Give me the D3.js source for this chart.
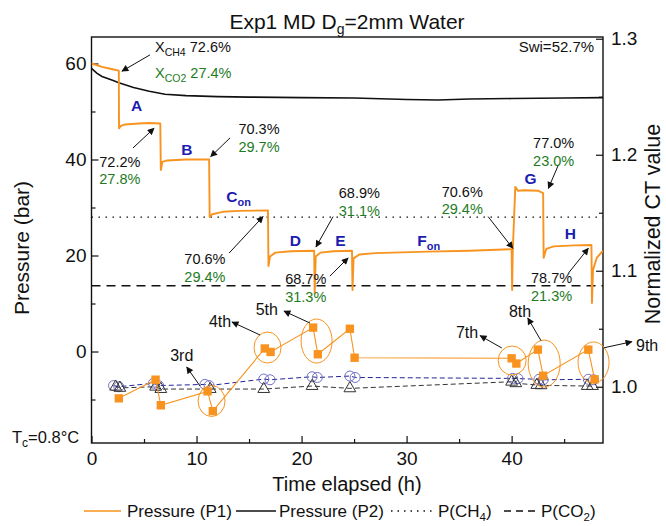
<!DOCTYPE html>
<html><head><meta charset="utf-8">
<script src="https://cdn.jsdelivr.net/npm/d3@7"></script>
<style>
body{margin:0;background:#fff}
svg{display:block}
text{font-family:"Liberation Sans",Arial,Helvetica,sans-serif}
</style>
</head><body>
<svg id="chart" width="666" height="526"></svg>
<script>
// ---- Pressure P1 (bar) vs time (h)
const p1Time = [0,1,2,2.6,2.62,2.8,3.2,4.5,5.5,6.55,6.6,6.75,7.2,9,11.2,11.25,11.5,12.5,14,16.8,16.85,17.0,17.5,19,21.2,21.25,21.35,21.8,23,24.8,24.85,24.95,25.5,27,32,36,40.0,40.05,40.1,40.35,40.6,41.2,42.5,43.0,43.05,43.3,44,46,47.6,47.65,47.75,48.1,48.7];
const p1Pressure = [60.0,59.3,58.8,58.5,46.5,47.0,47.3,47.5,47.6,47.5,37.8,39.5,39.8,40.0,40.0,28.0,28.6,29.1,29.3,29.4,17.8,19.8,20.6,20.9,21.0,12.1,19.8,20.6,20.9,21.0,12.8,19.4,20.2,20.5,20.8,21.0,21.3,12.8,20.5,34.3,33.5,33.6,33.5,33.0,19.5,21.4,21.9,22.1,22.2,10.1,17.0,19.5,21.0];
// ---- Pressure P2 (bar)
const p2Time = [0,0.5,1,2,2.6,4,5.5,7,9,12,15,20,25,30,33,36,40,45,48.7];
const p2Pressure = [59.0,58.0,57.3,56.5,56.0,55.0,54.2,53.6,53.3,53.1,53.0,52.9,52.8,52.5,52.4,52.6,52.7,52.8,52.9];
// ---- Reference pressures
const pCH4 = 28.0;
const pCO2 = 13.7;
// ---- Normalized CT values (right axis)
const ctTime = [2.6,6.1,6.6,11.05,11.55,16.5,17.05,21.1,21.55,24.6,25.05,40.0,40.45,42.5,43.0,47.3,47.9];
const ctValue = [0.990,1.006,0.984,0.996,0.979,1.033,1.030,1.051,1.028,1.050,1.025,1.0245,1.020,1.032,1.0095,1.032,1.0064];
const circTime = [2.1,2.6,5.9,6.4,10.8,11.2,16.4,17.0,21.0,21.5,24.6,25.1,40.1,40.6,42.6,43.0,47.3,47.8];
const circValue = [1.001,1.000,1.003,1.001,1.002,1.001,1.0066,1.006,1.0086,1.008,1.0092,1.008,1.0072,1.007,1.0064,1.006,1.0064,1.006];
const triTime = [2.3,2.7,6.1,6.6,11.3,16.4,21.0,24.6,40.0,40.4,42.4,42.8,47.2,47.7];
const triValue = [1.000,0.999,1.000,0.998,0.998,0.998,1.0006,0.9986,1.0043,1.003,1.0015,1.0012,1.0006,1.0006];
// ---- Axis ticks
const xTicks = [0,10,20,30,40];
const xMinor = [5,15,25,35,45];
const leftTicks = [0,20,40,60];
const leftMinor = [-10,10,30,50];
const rightTicks = [1.0,1.1,1.2,1.3];
const rightMinor = [1.05,1.15,1.25];
// ---- Stage labels
const stageName = ["A","B","C","D","E","F","G","H"];
const stageSub = ["","","on","","","on","",""];
const stageTime = [4.3,9.07,14.0,19.4,23.7,32.1,41.8,45.6];
const stagePressure = [51.3,42.0,32.2,23.2,23.2,23.2,36.1,24.6];
// ---- Gas composition labels (CH4 / CO2)
const compCH4 = ["72.2%","70.3%","70.6%","68.9%","68.7%","70.6%","77.0%","78.7%"];
const compCO2 = ["27.8%","29.7%","29.4%","31.1%","31.3%","29.4%","23.0%","21.3%"];
const compTime = [2.7,15.95,10.8,25.5,20.4,35.3,44.0,43.8];
const compPressure = [39.5,46.3,19.2,33.0,15.1,33.3,43.4,15.3];
const compArrowFrom = [[3.95,42.4],[13.19,44.5],[13.1,20.5],[23.0,28.1],[22.7,15.7],[37.76,28.1],[44.46,38.9],[45.4,16.3]];
const compArrowTo = [[5.95,46.5],[11.35,40.6],[16.33,28.1],[21.38,21.8],[24.43,19.5],[40.11,21.5],[43.5,34.0],[47.3,21.5]];
// ---- CT group annotations (ellipses around repeated scans)
const ordName = ["3rd","4th","5th","7th","8th","9th"];
const ordEllTime = [11.43,16.76,21.43,40.05,43.1,47.8];
const ordEllValue = [0.9877,1.0338,1.0394,1.0226,1.020,1.0209];
const ordEllRx = [13.5,13.5,15.5,14,16,15.5];
const ordEllRy = [15.5,15.5,22,14.5,23.5,20.5];
const ordLabelTime = [8.59,12.24,16.69,35.76,40.8,52.9];
const ordLabelValue = [1.0273,1.0569,1.067,1.0474,1.0655,1.036];
const ordArrowFrom = [[10.33,1.0006],[16.05,1.0446],[20.8,1.0549],[39.07,1.0334],[42.8,1.0397],[48.8,1.0336]];
const ordArrowTo = [[9.07,1.017],[13.38,1.0558],[18.33,1.0652],[37.0,1.044],[41.54,1.0592],[51.45,1.0388]];

const ORANGE = "#f7931e", GREEN = "#1e7b1e", BLUE = "#1c1cb0";

const svg = d3.select("#chart");
svg.append("rect").attr("width",666).attr("height",526).attr("fill","#fff");

const L = 91.5, R = 603, T = 37, B = 443;
const x = d3.scaleLinear().domain([0,48.7]).range([L,R]);
const yL = d3.scaleLinear().domain([-19.06,65.52]).range([B,T]);
const yR = d3.scaleLinear().domain([0.9515,1.3015]).range([B,T]);

const defs = svg.append("defs");
defs.append("marker").attr("id","ah").attr("viewBox","0 0 10 10")
  .attr("refX",9).attr("refY",5).attr("markerWidth",9).attr("markerHeight",7)
  .attr("markerUnits","userSpaceOnUse").attr("orient","auto")
  .append("path").attr("d","M0,0L10,5L0,10z").attr("fill","#111");
defs.append("clipPath").attr("id","plotclip").append("rect")
  .attr("x",L).attr("y",T).attr("width",R-L).attr("height",B-T);

// ---- axes
function styleAxis(g){
  g.select(".domain").remove();
  g.selectAll(".tick line").attr("stroke","#111").attr("stroke-width",1.2);
  g.selectAll("text").attr("font-size",19).attr("fill","#111")
    .style("font-family",'"Liberation Sans",Arial,sans-serif');
}
svg.append("g").attr("transform",`translate(0,${B})`)
  .call(d3.axisBottom(x).tickValues(xTicks).tickSize(-7).tickPadding(9).tickFormat(d3.format("d"))).call(styleAxis);
svg.append("g").attr("transform",`translate(0,${B})`)
  .call(d3.axisBottom(x).tickValues(xMinor).tickSize(-4).tickFormat("")).call(styleAxis);
svg.append("g").attr("transform",`translate(${L},0)`)
  .call(d3.axisLeft(yL).tickValues(leftTicks).tickSize(-7).tickPadding(5).tickFormat(d3.format("d"))).call(styleAxis);
svg.append("g").attr("transform",`translate(${L},0)`)
  .call(d3.axisLeft(yL).tickValues(leftMinor).tickSize(-4).tickFormat("")).call(styleAxis);
svg.append("g").attr("transform",`translate(${R},0)`)
  .call(d3.axisRight(yR).tickValues(rightTicks).tickSize(-7).tickPadding(8).tickFormat(d3.format(".1f"))).call(styleAxis);
svg.append("g").attr("transform",`translate(${R},0)`)
  .call(d3.axisRight(yR).tickValues(rightMinor).tickSize(-4).tickFormat("")).call(styleAxis);

svg.append("rect").attr("x",L).attr("y",T).attr("width",R-L).attr("height",B-T)
  .attr("fill","none").attr("stroke","#111").attr("stroke-width",1.4);

const plot = svg.append("g").attr("clip-path","url(#plotclip)");

// reference pressure lines
plot.append("line").attr("x1",L).attr("x2",R).attr("y1",yL(pCH4)).attr("y2",yL(pCH4))
  .attr("stroke","#111").attr("stroke-width",1.3).attr("stroke-dasharray","1.5,5.5");
plot.append("line").attr("x1",L).attr("x2",R).attr("y1",yL(pCO2)).attr("y2",yL(pCO2))
  .attr("stroke","#111").attr("stroke-width",1.3).attr("stroke-dasharray","9,6");

// pressure curves
const lineL = d3.line().x(d=>x(d[0])).y(d=>yL(d[1]));
plot.append("path").datum(d3.zip(p2Time,p2Pressure)).attr("d",lineL)
  .attr("fill","none").attr("stroke","#111").attr("stroke-width",1.6);
plot.append("path").datum(d3.zip(p1Time,p1Pressure)).attr("d",lineL)
  .attr("fill","none").attr("stroke",ORANGE).attr("stroke-width",1.9).attr("stroke-linejoin","round");

// CT series
const lineR = d3.line().x(d=>x(d[0])).y(d=>yR(d[1]));
const circ = d3.zip(circTime,circValue), tri = d3.zip(triTime,triValue), ct = d3.zip(ctTime,ctValue);
plot.append("path").datum(tri).attr("d",lineR).attr("fill","none")
  .attr("stroke","#333").attr("stroke-width",1).attr("stroke-dasharray","5,3");
plot.append("path").datum(circ).attr("d",lineR).attr("fill","none")
  .attr("stroke","#24249a").attr("stroke-width",1).attr("stroke-dasharray","5,3");
plot.selectAll(".circ").data(circ).join("circle").attr("class","circ")
  .attr("cx",d=>x(d[0])).attr("cy",d=>yR(d[1])).attr("r",5)
  .attr("fill","none").attr("stroke","#7070c8").attr("stroke-width",1);
plot.selectAll(".tri").data(tri).join("path").attr("class","tri")
  .attr("transform",d=>`translate(${x(d[0])},${yR(d[1])})`)
  .attr("d",d3.symbol(d3.symbolTriangle,60)).attr("fill","none").attr("stroke","#333").attr("stroke-width",1);
plot.append("path").datum(ct).attr("d",lineR).attr("fill","none")
  .attr("stroke",ORANGE).attr("stroke-width",1.1);
plot.selectAll(".sq").data(ct).join("path").attr("class","sq")
  .attr("transform",d=>`translate(${x(d[0])},${yR(d[1])})`)
  .attr("d",d3.symbol(d3.symbolSquare,70)).attr("fill",ORANGE);

// ellipses around scan groups
svg.selectAll(".ell").data(d3.range(ordName.length)).join("ellipse").attr("class","ell")
  .attr("cx",i=>x(ordEllTime[i])).attr("cy",i=>yR(ordEllValue[i]))
  .attr("rx",i=>ordEllRx[i]).attr("ry",i=>ordEllRy[i])
  .attr("fill","none").attr("stroke",ORANGE).attr("stroke-width",1);

// ordinal labels + arrows
ordName.forEach((n,i)=>{
  svg.append("line").attr("x1",x(ordArrowFrom[i][0])).attr("y1",yR(ordArrowFrom[i][1]))
    .attr("x2",x(ordArrowTo[i][0])).attr("y2",yR(ordArrowTo[i][1]))
    .attr("stroke","#111").attr("stroke-width",1).attr("marker-end","url(#ah)");
  svg.append("text").attr("x",x(ordLabelTime[i])).attr("y",yR(ordLabelValue[i])+6)
    .attr("text-anchor","middle").attr("font-size",16).attr("fill","#111").text(n);
});

// stage labels
stageName.forEach((n,i)=>{
  const t = svg.append("text").attr("x",x(stageTime[i])).attr("y",yL(stagePressure[i])+5.5)
    .attr("text-anchor","middle").attr("font-size",15.5).attr("font-weight","bold").attr("fill",BLUE);
  t.append("tspan").text(n);
  if(stageSub[i]) t.append("tspan").attr("font-size",11).attr("dy",4).text(stageSub[i]);
});

// composition labels + arrows
compCH4.forEach((c,i)=>{
  svg.append("line").attr("x1",x(compArrowFrom[i][0])).attr("y1",yL(compArrowFrom[i][1]))
    .attr("x2",x(compArrowTo[i][0])).attr("y2",yL(compArrowTo[i][1]))
    .attr("stroke","#111").attr("stroke-width",1).attr("marker-end","url(#ah)");
  svg.append("text").attr("x",x(compTime[i])).attr("y",yL(compPressure[i])+5)
    .attr("text-anchor","middle").attr("font-size",14.5).attr("fill","#111").text(c);
  svg.append("text").attr("x",x(compTime[i])).attr("y",yL(compPressure[i])+22.5)
    .attr("text-anchor","middle").attr("font-size",14.5).attr("fill",GREEN).text(compCO2[i]);
});

// initial composition
svg.append("line").attr("x1",x(5.57)).attr("y1",yL(61.8)).attr("x2",x(2.9)).attr("y2",yL(58.4))
  .attr("stroke","#111").attr("stroke-width",1).attr("marker-end","url(#ah)");
const x0 = svg.append("text").attr("x",x(6.05)).attr("y",yL(63.4)+5).attr("font-size",14.5).attr("fill","#111");
x0.append("tspan").text("X");
x0.append("tspan").attr("font-size",10.5).attr("dy",4).text("CH4");
x0.append("tspan").attr("dy",-4).text(" 72.6%");
const x1 = svg.append("text").attr("x",x(6.05)).attr("y",yL(58.0)+5).attr("font-size",14.5).attr("fill",GREEN);
x1.append("tspan").text("X");
x1.append("tspan").attr("font-size",10.5).attr("dy",4).text("CO2");
x1.append("tspan").attr("dy",-4).text(" 27.4%");

svg.append("text").attr("x",x(47.86)).attr("y",yL(63.4)+5).attr("text-anchor","end")
  .attr("font-size",15).attr("fill","#111").text("Swi=52.7%");

// title
const title = svg.append("text").attr("x",347).attr("y",29).attr("text-anchor","middle")
  .attr("font-size",21).attr("fill","#111");
title.append("tspan").text("Exp1 MD D");
title.append("tspan").attr("font-size",14).attr("dy",5).text("g");
title.append("tspan").attr("dy",-5).text("=2mm Water");

// axis titles
svg.append("text").attr("transform","translate(29,248) rotate(-90)").attr("text-anchor","middle")
  .attr("font-size",21).attr("fill","#111").text("Pressure (bar)");
svg.append("text").attr("transform","translate(660,224) rotate(-90)").attr("text-anchor","middle")
  .attr("font-size",21.5).attr("fill","#111").text("Normalized CT value");
svg.append("text").attr("x",347).attr("y",491).attr("text-anchor","middle")
  .attr("font-size",20).attr("fill","#111").text("Time elapsed (h)");

// core temperature
const tc = svg.append("text").attr("x",12).attr("y",443).attr("font-size",16.5).attr("fill","#111");
tc.append("tspan").text("T");
tc.append("tspan").attr("font-size",12).attr("dy",4).text("c");
tc.append("tspan").attr("dy",-4).text("=0.8°C");

// legend
const lg = svg.append("g");
const legY = 511;
const legItems = [
  {x1:84,x2:121,stroke:ORANGE,dash:null,tx:127,label:["Pressure (P1)"]},
  {x1:236,x2:276,stroke:"#111",dash:null,tx:279,label:["Pressure (P2)"]},
  {x1:391,x2:436,stroke:"#111",dash:"1.5,5",tx:438,label:["P(CH","4",")"]},
  {x1:504,x2:539,stroke:"#111",dash:"7,5",tx:541,label:["P(CO","2",")"]}
];
legItems.forEach(it=>{
  lg.append("line").attr("x1",it.x1).attr("x2",it.x2).attr("y1",legY).attr("y2",legY)
    .attr("stroke",it.stroke).attr("stroke-width",1.5).attr("stroke-dasharray",it.dash);
  const t = lg.append("text").attr("x",it.tx).attr("y",legY+6).attr("font-size",17).attr("fill","#111");
  t.append("tspan").text(it.label[0]);
  if(it.label.length>1){
    t.append("tspan").attr("font-size",11.5).attr("dy",4).text(it.label[1]);
    t.append("tspan").attr("dy",-4).text(it.label[2]);
  }
});
</script>
</body></html>
